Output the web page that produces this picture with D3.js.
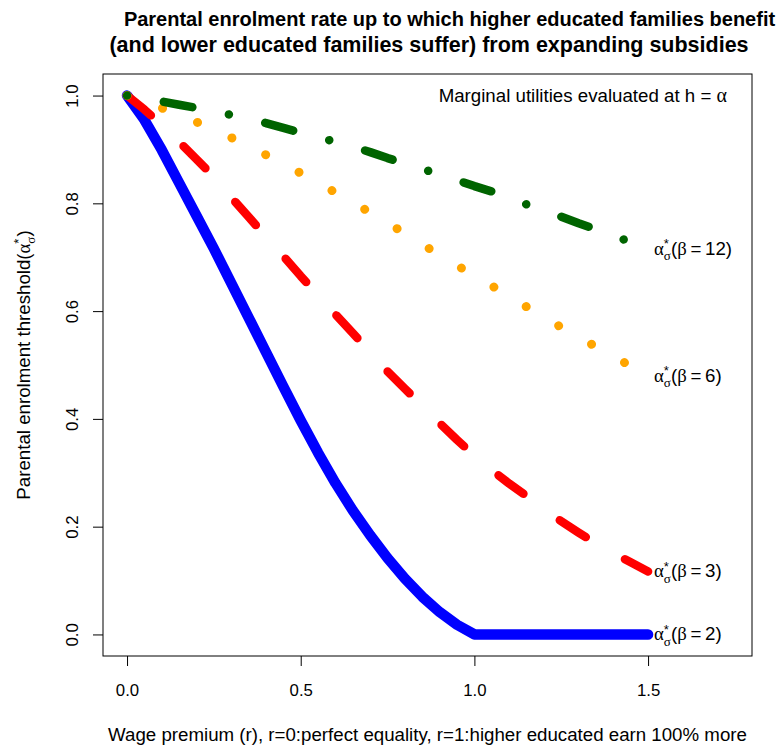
<!DOCTYPE html>
<html>
<head>
<meta charset="utf-8">
<script src="https://cdn.jsdelivr.net/npm/d3@7/dist/d3.min.js"></script>
<style>
  html, body { margin: 0; padding: 0; background: #fff; }
  svg { display: block; }
  text { font-family: "Liberation Sans", Arial, sans-serif; fill: #000; }
</style>
</head>
<body>
<svg id="chart" width="783" height="751"></svg>
<script>
// Wage premium grid (r)
const rGrid = [0, 0.05, 0.1, 0.15, 0.2, 0.25, 0.3, 0.35, 0.4, 0.45, 0.5, 0.55, 0.6, 0.65, 0.7, 0.75,
               0.8, 0.85, 0.9, 0.95, 1.0, 1.05, 1.1, 1.15, 1.2, 1.25, 1.3, 1.35, 1.4, 1.45, 1.5];

// Threshold alpha*_sigma for each beta
const beta2  = [1.000, 0.955, 0.899, 0.838, 0.777, 0.716, 0.652, 0.588, 0.524, 0.460, 0.397, 0.337,
                0.281, 0.230, 0.184, 0.1415, 0.1035, 0.070, 0.0415, 0.018, 0.000, 0, 0, 0, 0, 0, 0, 0, 0, 0, 0];
const beta3  = [1.000, 0.974, 0.945, 0.914, 0.882, 0.849, 0.811, 0.775, 0.738, 0.702, 0.665, 0.630,
                0.594, 0.559, 0.524, 0.488, 0.456, 0.424, 0.392, 0.361, 0.332, 0.305, 0.280, 0.257,
                0.232, 0.210, 0.189, 0.169, 0.151, 0.134, 0.117];
const beta6  = [1.000, 0.989, 0.977, 0.964, 0.951, 0.937, 0.922, 0.906, 0.890, 0.873, 0.856, 0.838,
                0.820, 0.802, 0.783, 0.764, 0.744, 0.724, 0.704, 0.685, 0.665, 0.647, 0.628, 0.608,
                0.589, 0.570, 0.552, 0.534, 0.516, 0.498, 0.480];
const beta12 = [1.000, 0.995, 0.989, 0.983, 0.977, 0.971, 0.964, 0.956, 0.949, 0.940, 0.931, 0.923,
                0.914, 0.905, 0.895, 0.884, 0.874, 0.864, 0.853, 0.843, 0.832, 0.822, 0.810, 0.798,
                0.786, 0.775, 0.763, 0.752, 0.740, 0.728, 0.716];

const seriesBetas = ["2", "3", "6", "12"];
const seriesColors = ["#0000ff", "#ff0000", "#ffa500", "#006400"];

const xTicks = [0, 0.5, 1.0, 1.5];
const xTickLabels = ["0.0", "0.5", "1.0", "1.5"];
const yTicks = [0, 0.2, 0.4, 0.6, 0.8, 1.0];
const yTickLabels = ["0.0", "0.2", "0.4", "0.6", "0.8", "1.0"];

const titleLines = [
  "Parental enrolment rate up to which higher educated families benefit",
  "(and lower educated families suffer) from expanding subsidies"
];
const xLabel = "Wage premium (r), r=0:perfect equality, r=1:higher educated earn 100% more";
const yLabel = "Parental enrolment threshold(";
const noteText = "Marginal utilities evaluated at h\u00a0=\u00a0";

const svg = d3.select("#chart");
const box = { left: 103, right: 752, top: 74, bottom: 656 };

const x = d3.scaleLinear().domain([-0.0692, 1.7992]).range([box.left, box.right]);
const y = d3.scaleLinear().domain([-0.04, 1.04]).range([box.bottom, box.top]);

const sans = "Liberation Sans, Arial, sans-serif";
const serif = "Liberation Serif, Times New Roman, serif";
const baseSize = 18.7;

// Line styles: solid, dashed, dotted, dot-dash
const styles = [
  { width: 10.5, dash: null },
  { width: 8.5,  dash: "31,45" },
  { width: 9,    dash: "0.01,37.7" },
  { width: 8.5,  dash: "0.01,37.3,29,37.3" }
];
const allSeries = [beta2, beta3, beta6, beta12];

const line = d3.line()
  .x((d, i) => x(rGrid[i]))
  .y(d => y(d));

const plot = svg.append("g");
allSeries.forEach((vals, k) => {
  const p = plot.append("path")
    .datum(vals)
    .attr("d", line)
    .attr("fill", "none")
    .attr("stroke", seriesColors[k])
    .attr("stroke-width", styles[k].width)
    .attr("stroke-linecap", "round")
    .attr("stroke-linejoin", "round");
  if (styles[k].dash) p.attr("stroke-dasharray", styles[k].dash);
});

// Plot frame
svg.append("rect")
  .attr("x", box.left).attr("y", box.top)
  .attr("width", box.right - box.left).attr("height", box.bottom - box.top)
  .attr("fill", "none").attr("stroke", "#000").attr("stroke-width", 1);

// X axis
const xAxis = d3.axisBottom(x)
  .tickValues(xTicks)
  .tickFormat((d, i) => xTickLabels[i])
  .tickSize(10)
  .tickPadding(18);
const gx = svg.append("g").attr("transform", `translate(0,${box.bottom})`).call(xAxis);
gx.select(".domain").remove();
gx.selectAll(".tick text").style("font-size", "16.8px").style("font-family", sans);
gx.selectAll(".tick line").attr("stroke", "#000");

// Y axis, labels parallel to the axis
const yAxis = d3.axisLeft(y)
  .tickValues(yTicks)
  .tickFormat((d, i) => yTickLabels[i])
  .tickSize(10);
const gy = svg.append("g").attr("transform", `translate(${box.left},0)`).call(yAxis);
gy.select(".domain").remove();
gy.selectAll(".tick line").attr("stroke", "#000");
gy.selectAll(".tick text")
  .attr("x", null).attr("dy", null)
  .attr("text-anchor", "middle")
  .attr("transform", "translate(-25,0) rotate(-90)")
  .style("font-size", "16.8px")
  .style("font-family", sans);

// Width of a string in a given font, used to stack sub- and superscripts
function measure(str, size, font) {
  const t = svg.append("text").style("font-size", size + "px").style("font-family", font).text(str);
  const w = t.node().getComputedTextLength();
  t.remove();
  return w;
}

// Appends alpha with a stacked "*" superscript and sigma subscript to a text element
function appendAlphaStar(t, size) {
  const small = size * 0.7;
  const wStar = measure("*", small, sans);
  const wSig = measure("\u03c3", small, serif);
  t.append("tspan").style("font-family", serif).style("font-size", size + "px").text("\u03b1");
  t.append("tspan").attr("dy", -size * 0.36).style("font-size", small + "px").text("*");
  t.append("tspan").attr("dx", -wStar).attr("dy", size * 0.64)
    .style("font-family", serif).style("font-size", small + "px").text("\u03c3");
  return { dyBack: -size * 0.28, dxBack: Math.max(0, wStar - wSig) };
}

// Series labels at the right end of each curve
allSeries.forEach((vals, k) => {
  const yEnd = y(vals[vals.length - 1]);
  const t = svg.append("text")
    .attr("x", x(1.5) + 6).attr("y", yEnd + 6)
    .style("font-size", baseSize + "px");
  const back = appendAlphaStar(t, baseSize);
  t.append("tspan").attr("dy", back.dyBack).attr("dx", back.dxBack).text("(");
  t.append("tspan").style("font-family", serif).text("\u03b2");
  t.append("tspan").text("\u2009=\u2009" + seriesBetas[k] + ")");
});

// Note in the top right corner
const note = svg.append("text")
  .attr("x", 727).attr("y", 101.5)
  .attr("text-anchor", "end")
  .style("font-size", baseSize + "px");
note.append("tspan").text(noteText);
note.append("tspan").style("font-family", serif).style("font-size", "20px").text("\u03b1");

// Title
svg.append("text").attr("x", 449.5).attr("y", 26).attr("text-anchor", "middle")
  .style("font-size", "20px").style("font-weight", "bold").text(titleLines[0]);
svg.append("text").attr("x", 429).attr("y", 52).attr("text-anchor", "middle")
  .style("font-size", "21.5px").style("font-weight", "bold").text(titleLines[1]);

// X axis title
svg.append("text").attr("x", (box.left + box.right) / 2).attr("y", 741)
  .attr("text-anchor", "middle").style("font-size", baseSize + "px").text(xLabel);

// Y axis title
const yl = svg.append("text")
  .attr("text-anchor", "middle")
  .attr("transform", `translate(29.5,${(box.top + box.bottom) / 2}) rotate(-90)`)
  .style("font-size", baseSize + "px");
yl.append("tspan").text(yLabel);
const yb = appendAlphaStar(yl, baseSize);
yl.append("tspan").attr("dy", yb.dyBack).attr("dx", yb.dxBack).text(")");
</script>
</body>
</html>
